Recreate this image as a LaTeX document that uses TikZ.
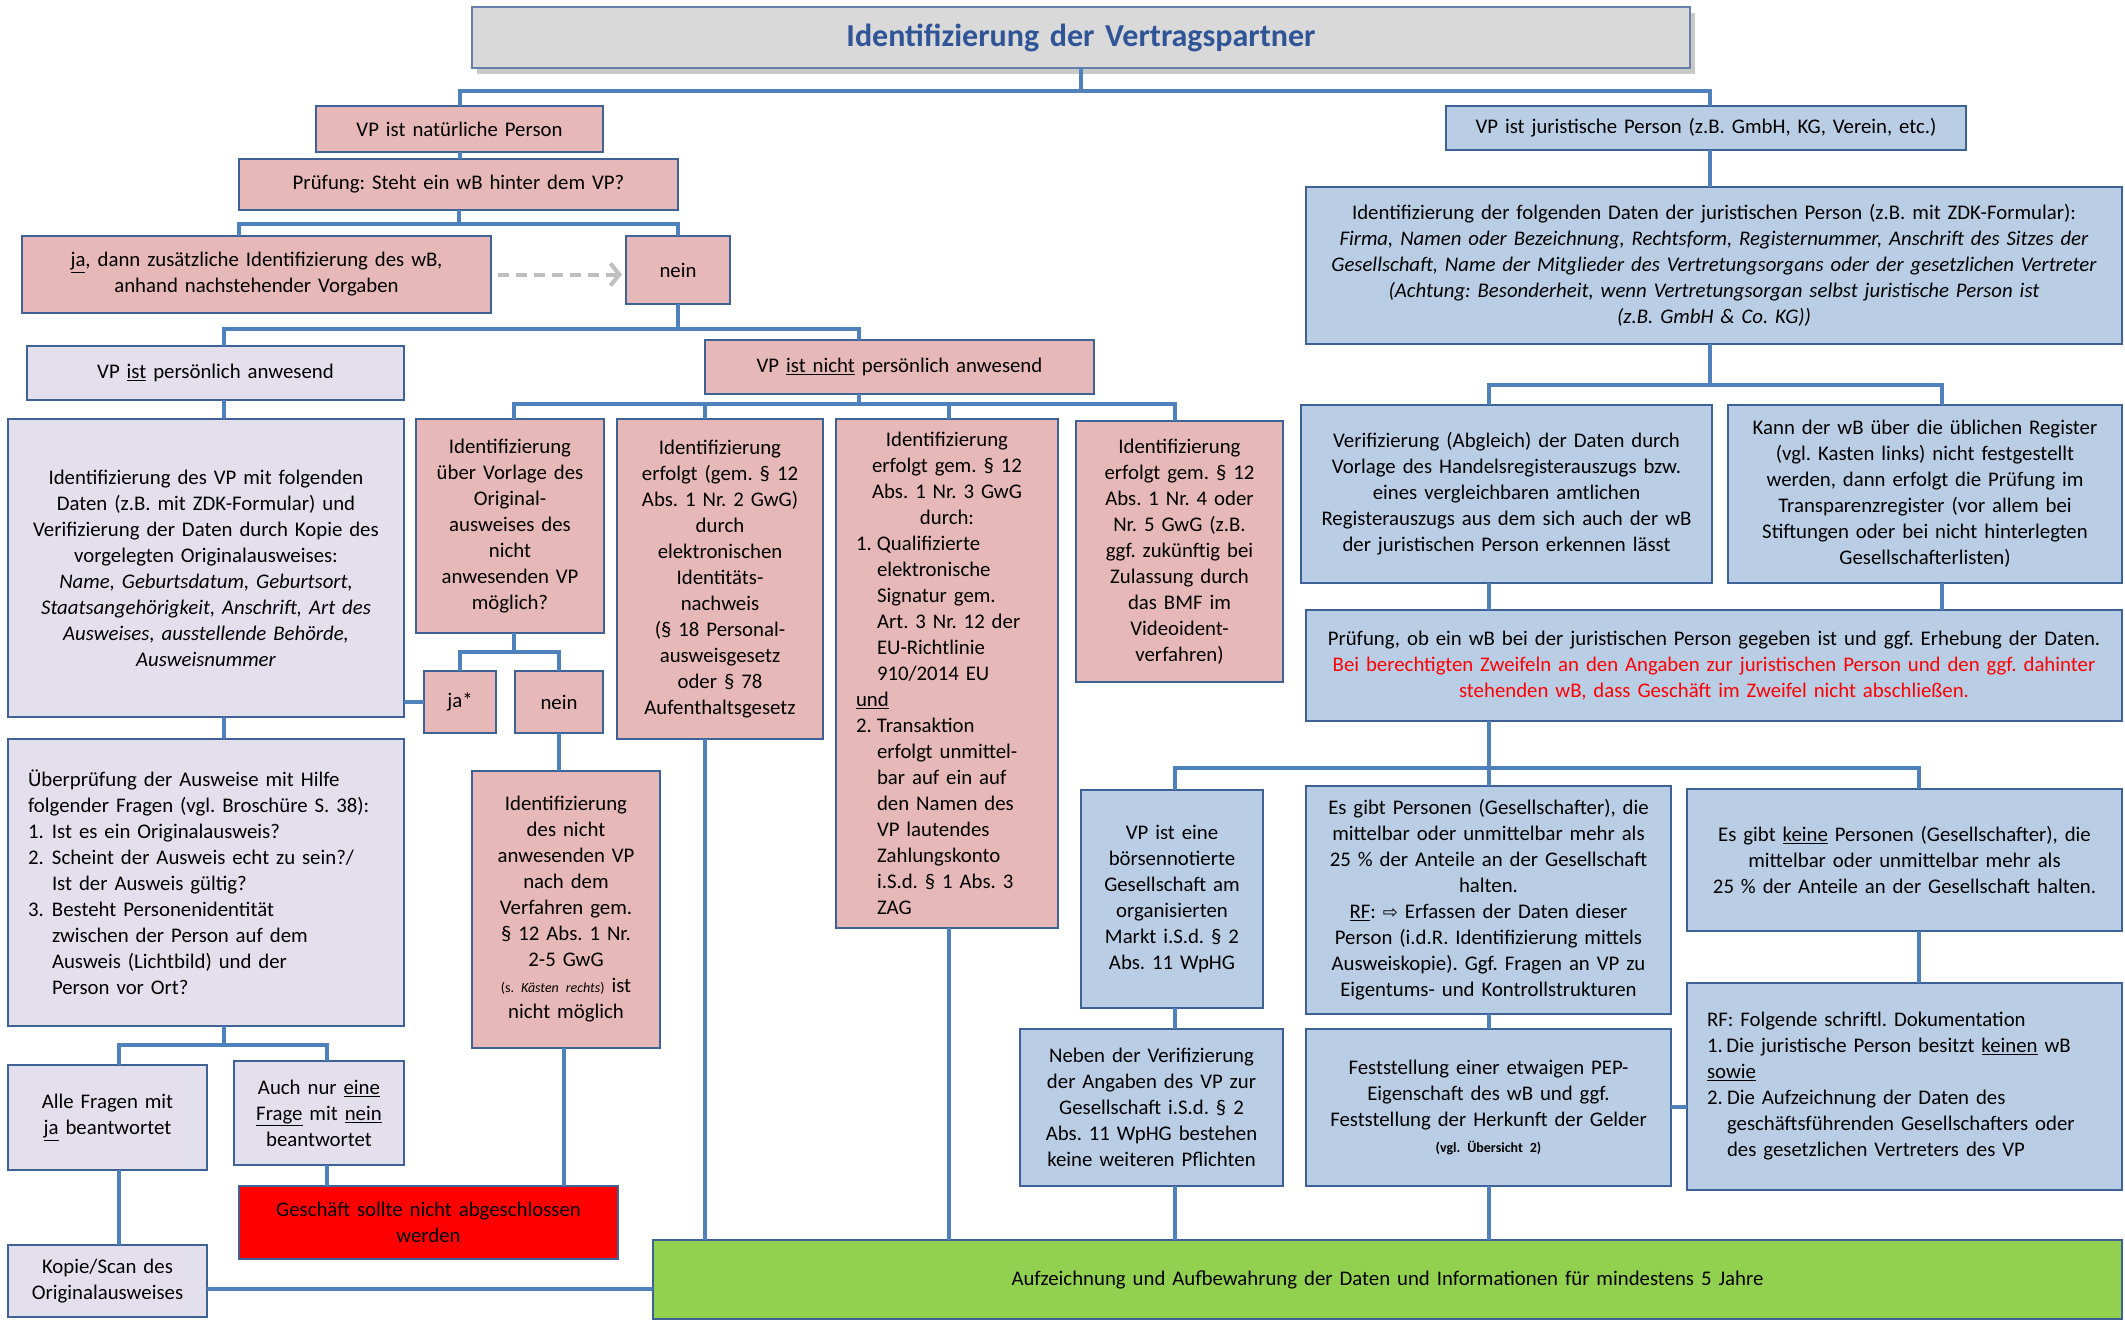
\documentclass[tikz,border=0pt]{standalone}
\usepackage{fontspec}
\setmainfont{Carlito}
\newfontfamily\symf{DejaVu Sans}
\usetikzlibrary{calc,shadows,arrows.meta}
\definecolor{pinkf}{RGB}{230,184,183}
\definecolor{bluef}{RGB}{185,205,229}
\definecolor{lavf}{RGB}{228,223,236}
\definecolor{greyf}{RGB}{217,217,217}
\definecolor{greenf}{RGB}{146,208,80}
\definecolor{bord}{RGB}{62,98,150}
\definecolor{connc}{RGB}{79,129,189}
\definecolor{titlec}{RGB}{47,85,151}
\newcommand\bx[7]{%
  \pgfmathsetmacro\bxw{#6-#4}\pgfmathsetmacro\bxh{#7-#5}%
  \pgfmathsetmacro\bxcx{(#4+#6)/2}\pgfmathsetmacro\bxcy{(#5+#7)/2}%
  \pgfmathsetmacro\bxtw{#6-#4-#3}%
  \node[#2, minimum width=\bxw pt, minimum height=\bxh pt, text width=\bxtw pt] (#1) at (\bxcx,\bxcy)}
\newcommand\lab[2]{\makebox[#1][l]{#2}}
\begin{document}
\frenchspacing
\begin{tikzpicture}[x=1pt,y=-1pt,
  every node/.style={font=\fontsize{20.8}{26}\selectfont, inner sep=0pt, outer sep=0pt},
  basebox/.style={draw=bord, line width=2.5pt, align=center},
  pinkbox/.style={basebox, fill=pinkf},
  bluebox/.style={basebox, fill=bluef},
  lavbox/.style={basebox, fill=lavf},
  redbox/.style={basebox, fill=red},
  greenbox/.style={basebox, fill=greenf},
  titlebox/.style={basebox, fill=greyf, draw=bord!80, font=\fontsize{32}{38}\selectfont\bfseries, text=titlec,
     drop shadow={shadow xshift=5pt, shadow yshift=-6pt, opacity=.35, fill=black!60}},
  leftal/.style={align=left},
  conn/.style={draw=connc, line width=4pt},
  dasharr/.style={draw=black!25, line width=4pt, dash pattern=on 11pt off 7pt, -{Straight Barb[length=9pt,width=22pt,line width=4pt]}}
]
\useasboundingbox (0,0) rectangle (2125,1320);
\fill[white] (0,0) rectangle (2125,1320);

% ---------- nodes ----------
\bx{title}{titlebox}{10}{472}{7}{1690}{68}{Identifizierung der Vertragspartner};
\bx{nat}{pinkbox}{10}{316}{106}{603}{152}{VP ist natürliche Person};
\bx{pr}{pinkbox}{10}{239}{159}{678}{210}{Prüfung: Steht ein wB hinter dem VP?};
\bx{ja}{pinkbox}{10}{22}{236}{491}{313}{\underline{ja}, dann zusätzliche Identifizierung des wB,\\anhand nachstehender Vorgaben};
\bx{nein}{pinkbox}{10}{626}{236}{730}{304}{nein};
\bx{anw}{lavbox}{10}{27}{346}{404}{400}{VP \underline{ist} persönlich anwesend};
\bx{nanw}{pinkbox}{10}{705}{340}{1094}{394}{VP \underline{ist nicht} persönlich anwesend};
\bx{idvp}{lavbox}{8}{8}{419}{404}{717}{Identifizierung des VP mit folgenden\\Daten (z.B. mit ZDK-Formular) und\\Verifizierung der Daten durch Kopie des\\vorgelegten Originalausweises:\\\textit{Name, Geburtsdatum, Geburtsort,}\\\textit{Staatsangehörigkeit, Anschrift, Art des}\\\textit{Ausweises, ausstellende Behörde,}\\\textit{Ausweisnummer}};
\bx{A}{pinkbox}{8}{416}{419}{604}{633}{Identifizierung\\über Vorlage des\\Original-\\ausweises des\\nicht\\anwesenden VP\\möglich?};
\bx{B}{pinkbox}{6}{617}{419}{823}{739}{Identifizierung\\erfolgt (gem. § 12\\Abs. 1 Nr. 2 GwG)\\durch\\elektronischen\\Identitäts-\\nachweis\\(§ 18 Personal-\\ausweisgesetz\\oder § 78\\Aufenthaltsgesetz};
\bx{C}{pinkbox,leftal}{40}{836}{419}{1058}{928}{{\centering Identifizierung\\erfolgt gem. § 12\\Abs. 1 Nr. 3 GwG\\durch:\par}\lab{21pt}{1.}Qualifizierte\\\hspace*{21pt}elektronische\\\hspace*{21pt}Signatur gem.\\\hspace*{21pt}Art. 3 Nr. 12 der\\\hspace*{21pt}EU-Richtlinie\\\hspace*{21pt}910/2014 EU\\\underline{und}\\\lab{21pt}{2.}Transaktion\\\hspace*{21pt}erfolgt unmittel-\\\hspace*{21pt}bar auf ein auf\\\hspace*{21pt}den Namen des\\\hspace*{21pt}VP lautendes\\\hspace*{21pt}Zahlungskonto\\\hspace*{21pt}i.S.d. § 1 Abs. 3\\\hspace*{21pt}ZAG};
\bx{D}{pinkbox}{6}{1076}{421}{1283}{682}{Identifizierung\\erfolgt gem. § 12\\Abs. 1 Nr. 4 oder\\Nr. 5 GwG (z.B.\\ggf. zukünftig bei\\Zulassung durch\\das BMF im\\Videoident-\\verfahren)};
\bx{jas}{pinkbox}{6}{424}{671}{496}{733}{ja*};
\bx{nein2}{pinkbox}{6}{515}{671}{603}{733}{nein};
\bx{E}{pinkbox}{6}{472}{771}{660}{1048}{Identifizierung\\des nicht\\anwesenden VP\\nach dem\\Verfahren gem.\\§ 12 Abs. 1 Nr.\\2-5 GwG\\{\fontsize{14}{16}\selectfont(s. \textit{Kästen rechts})} ist\\nicht möglich};
\bx{ueb}{lavbox,leftal}{40}{8}{739}{404}{1026}{Überprüfung der Ausweise mit Hilfe\\folgender Fragen (vgl. Broschüre S. 38):\\\lab{24pt}{1.}Ist es ein Originalausweis?\\\lab{24pt}{2.}Scheint der Ausweis echt zu sein?/\\\hspace*{24pt}Ist der Ausweis gültig?\\\lab{24pt}{3.}Besteht Personenidentität\\\hspace*{24pt}zwischen der Person auf dem\\\hspace*{24pt}Ausweis (Lichtbild) und der\\\hspace*{24pt}Person vor Ort?};
\bx{alle}{lavbox}{8}{8}{1065}{207}{1170}{Alle Fragen mit\\\underline{ja} beantwortet};
\bx{auch}{lavbox}{8}{234}{1061}{404}{1165}{Auch nur \underline{eine}\\\underline{Frage} mit \underline{nein}\\beantwortet};
\bx{red}{redbox}{10}{239}{1186}{618}{1259}{Geschäft sollte nicht abgeschlossen\\werden};
\bx{kopie}{lavbox}{8}{8}{1245}{207}{1317}{Kopie/Scan des\\Originalausweises};
\bx{green}{greenbox}{10}{653}{1240}{2122}{1319}{Aufzeichnung und Aufbewahrung der Daten und Informationen für mindestens 5 Jahre};
\bx{jur}{bluebox}{10}{1446}{106}{1966}{150}{VP ist juristische Person (z.B. GmbH, KG, Verein, etc.)};
\bx{J1}{bluebox}{8}{1306}{187}{2122}{344}{Identifizierung der folgenden Daten der juristischen Person (z.B. mit ZDK-Formular):\\\textit{Firma, Namen oder Bezeichnung, Rechtsform, Registernummer, Anschrift des Sitzes der}\\\textit{Gesellschaft, Name der Mitglieder des Vertretungsorgans oder der gesetzlichen Vertreter}\\\textit{(Achtung: Besonderheit, wenn Vertretungsorgan selbst juristische Person ist}\\\textit{(z.B. GmbH \& Co. KG))}};
\bx{ver}{bluebox}{8}{1301}{405}{1712}{583}{Verifizierung (Abgleich) der Daten durch\\Vorlage des Handelsregisterauszugs bzw.\\eines vergleichbaren amtlichen\\Registerauszugs aus dem sich auch der wB\\der juristischen Person erkennen lässt};
\bx{kann}{bluebox}{8}{1728}{405}{2122}{583}{Kann der wB über die üblichen Register\\(vgl. Kasten links) nicht festgestellt\\werden, dann erfolgt die Prüfung im\\Transparenzregister (vor allem bei\\Stiftungen oder bei nicht hinterlegten\\Gesellschafterlisten)};
\bx{pru}{bluebox}{8}{1306}{610}{2122}{721}{Prüfung, ob ein wB bei der juristischen Person gegeben ist und ggf. Erhebung der Daten.\\\textcolor{red}{Bei berechtigten Zweifeln an den Angaben zur juristischen Person und den ggf. dahinter}\\\textcolor{red}{stehenden wB, dass Geschäft im Zweifel nicht abschließen.}};
\bx{bors}{bluebox}{6}{1081}{790}{1263}{1008}{VP ist eine\\börsennotierte\\Gesellschaft am\\organisierten\\Markt i.S.d. § 2\\Abs. 11 WpHG};
\bx{esg}{bluebox}{6}{1306}{786}{1671}{1014}{Es gibt Personen (Gesellschafter), die\\mittelbar oder unmittelbar mehr als\\25 \% der Anteile an der Gesellschaft\\halten.\\\underline{RF}: {\symf\fontsize{18}{26}\selectfont ⇨} Erfassen der Daten dieser\\Person (i.d.R. Identifizierung mittels\\Ausweiskopie). Ggf. Fragen an VP zu\\Eigentums- und Kontrollstrukturen};
\bx{esk}{bluebox}{8}{1687}{789}{2122}{931}{Es gibt \underline{keine} Personen (Gesellschafter), die\\mittelbar oder unmittelbar mehr als\\25 \% der Anteile an der Gesellschaft halten.};
\bx{neben}{bluebox}{6}{1020}{1029}{1283}{1186}{Neben der Verifizierung\\der Angaben des VP zur\\Gesellschaft i.S.d. § 2\\Abs. 11 WpHG bestehen\\keine weiteren Pflichten};
\bx{fest}{bluebox}{6}{1306}{1029}{1671}{1186}{Feststellung einer etwaigen PEP-\\Eigenschaft des wB und ggf.\\Feststellung der Herkunft der Gelder\\{\fontsize{14}{18}\selectfont\bfseries (vgl. Übersicht 2)}};
\bx{rf}{bluebox,leftal}{40}{1687}{983}{2122}{1190}{RF: Folgende schriftl. Dokumentation\\1.\,Die juristische Person besitzt \underline{keinen} wB\\\underline{sowie}\\\lab{20pt}{2.}Die Aufzeichnung der Daten des\\\hspace*{20pt}geschäftsführenden Gesellschafters oder\\\hspace*{20pt}des gesetzlichen Vertreters des VP};

% ---------- column coordinates ----------
\coordinate (xa) at (224,0);
\coordinate (xn) at (859,0);
\coordinate (xA) at (514,0);
\coordinate (xB) at (705,0);
\coordinate (xC) at (949,0);
\coordinate (xD) at (1175,0);
\coordinate (xE) at (564,0);
\coordinate (xal) at (119,0);
\coordinate (xau) at (327,0);
\coordinate (xj) at (1710,0);
\coordinate (xv) at (1489,0);
\coordinate (xk) at (1942,0);
\coordinate (xb) at (1175,0);
\coordinate (xe) at (1919,0);
\coordinate (yk) at (0,1289);
\coordinate (yf) at (0,1107);

% ---------- connectors ----------
\draw[conn] (title.south) -- ++(0,23) coordinate (t1);
\draw[conn] (nat.north) |- (t1) -| (jur.north -| xj);
\draw[conn] (nat.south) -- (nat.south |- pr.north);
\draw[conn] (pr.south) -- ++(0,14) coordinate (p1);
\draw[conn] (ja.north -| pr.west) |- (p1) -| (nein.north);
\draw[dasharr] ($(ja.east)+(7,0)$) -- ($(ja.east -| nein.west)+(-4,0)$);
\draw[conn] (nein.south) -- ++(0,25) coordinate (n1);
\draw[conn] (anw.north -| xa) |- (n1) -| (nanw.north -| xn);
\draw[conn] (anw.south -| xa) -- (idvp.north -| xa);
\draw[conn] (nanw.south -| xn) -- ++(0,10) coordinate (m1);
\draw[conn] (A.north -| xA) |- (m1) -| (D.north -| xD);
\draw[conn] (B.north -| xB) -- (m1 -| xB);
\draw[conn] (C.north -| xC) -- (m1 -| xC);
\draw[conn] (A.south -| xA) -- ++(0,19) coordinate (a1);
\draw[conn] (jas.north) |- (a1) -| (nein2.north);
\draw[conn] (jas.west) -- (jas.west -| idvp.east);
\draw[conn] (nein2.south) -- (nein2.south |- E.north);
\draw[conn] (E.south -| xE) -- (red.north -| xE);
\draw[conn] (idvp.south -| xa) -- (ueb.north -| xa);
\draw[conn] (ueb.south -| xa) -- ++(0,19) coordinate (u1);
\draw[conn] (alle.north -| xal) |- (u1) -| (auch.north -| xau);
\draw[conn] (auch.south -| xau) -- (red.north -| xau);
\draw[conn] (alle.south -| xal) -- (kopie.north -| xal);
\draw[conn] (kopie.east |- yk) -- (green.west |- yk);
\draw[conn] (B.south -| xB) -- (green.north -| xB);
\draw[conn] (C.south -| xC) -- (green.north -| xC);
\draw[conn] (jur.south -| xj) -- (J1.north -| xj);
\draw[conn] (J1.south -| xj) -- ++(0,41) coordinate (j1);
\draw[conn] (ver.north -| xv) |- (j1) -| (kann.north -| xk);
\draw[conn] (ver.south -| xv) -- (pru.north -| xv);
\draw[conn] (kann.south -| xk) -- (pru.north -| xk);
\draw[conn] (pru.south -| xv) -- ++(0,47) coordinate (q1);
\draw[conn] (bors.north -| xb) |- (q1) -| (esk.north -| xe);
\draw[conn] (esg.north -| xv) -- (q1);
\draw[conn] (bors.south -| xb) -- (neben.north -| xb);
\draw[conn] (esg.south -| xv) -- (fest.north -| xv);
\draw[conn] (esk.south -| xe) -- (rf.north -| xe);
\draw[conn] (fest.east |- yf) -- (rf.west |- yf);
\draw[conn] (neben.south -| xb) -- (green.north -| xb);
\draw[conn] (fest.south -| xv) -- (green.north -| xv);
\end{tikzpicture}
\end{document}
